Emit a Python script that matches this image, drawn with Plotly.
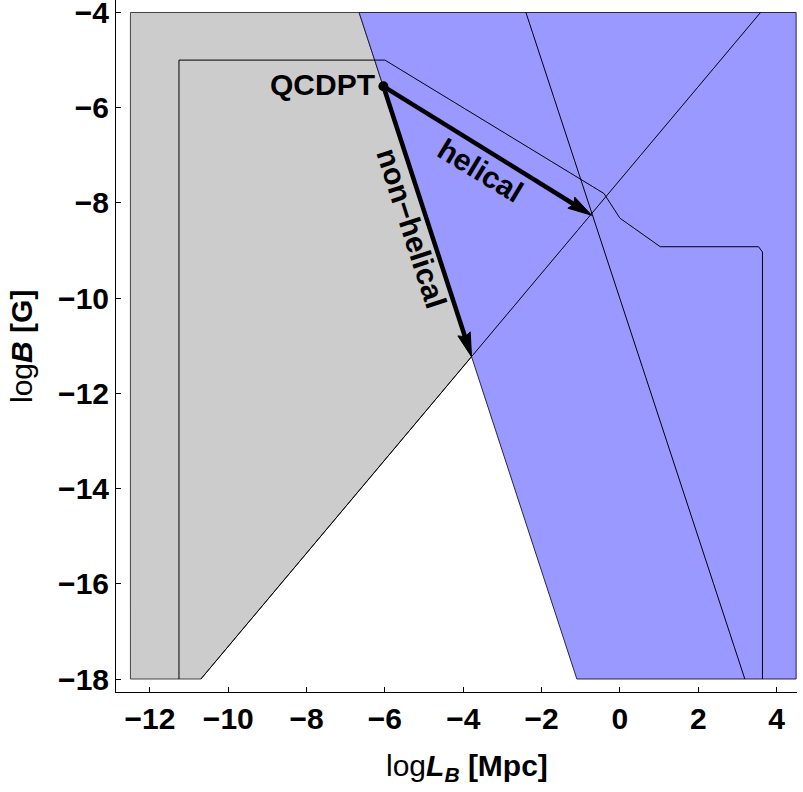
import plotly.graph_objects as go
import numpy as np

# ---- data ----
x_ticks = [-12, -10, -8, -6, -4, -2, 0, 2, 4]
x_ticklabels = ["\u221212", "\u221210", "\u22128", "\u22126", "\u22124", "\u22122", "0", "2", "4"]
y_ticks = [-4, -6, -8, -10, -12, -14, -16, -18]
y_ticklabels = ["\u22124", "\u22126", "\u22128", "\u221210", "\u221212", "\u221214", "\u221216", "\u221218"]

# grey region (allowed region outline)
grey_x = [-12.5, -12.5, -6.66, -3.79, -10.70]
grey_y = [-18.0, -4.0, -4.0, -11.23, -18.0]
# blue region
blue_x = [-6.66, 4.5, 4.5, -1.10]
blue_y = [-4.0, -4.0, -18.0, -18.0]
# thin outline curve
outline_x = [-11.26, -11.26, -6.0, -0.41, 0.0, 1.03, 3.54, 3.64, 3.64]
outline_y = [-18.0, -5.0, -5.0, -7.80, -8.32, -8.92, -8.92, -9.03, -18.0]
# diagonal line (grey boundary, slope ~1)
diag_x = [-10.70, 3.59]
diag_y = [-18.0, -4.0]
# steep line
steep_x = [-2.40, 3.19]
steep_y = [-4.0, -18.0]

# QCDPT point and arrow tips
qcd_pt = (-6.04, -5.55)
helical_tip = (-0.72, -8.26)
nonhelical_tip = (-3.79, -11.23)

# ---- layout geometry ----
W, H = 803, 792
ml, mr, mt, mb = 116, 6, 0, 100
xr = [-12.868, 4.522]
yr = [-18.273, -3.7375]
pw = W - ml - mr
ph = H - mt - mb
sx = pw / (xr[1] - xr[0])
sy = ph / (yr[1] - yr[0])

FONT = "Liberation Sans"
FS = 30

fig = go.Figure()

fig.add_trace(go.Scatter(x=grey_x + [grey_x[0]], y=grey_y + [grey_y[0]], mode="lines",
                         fill="toself", fillcolor="#CCCCCC",
                         line=dict(color="rgba(40,40,40,0.85)", width=1),
                         hoverinfo="skip", showlegend=False))
fig.add_trace(go.Scatter(x=blue_x + [blue_x[0]], y=blue_y + [blue_y[0]], mode="lines",
                         fill="toself", fillcolor="#9999FF",
                         line=dict(color="rgba(20,20,60,0.9)", width=1),
                         hoverinfo="skip", showlegend=False))
for lx, ly in [(outline_x, outline_y), (diag_x, diag_y), (steep_x, steep_y)]:
    fig.add_trace(go.Scatter(x=lx, y=ly, mode="lines",
                             line=dict(color="black", width=1),
                             hoverinfo="skip", showlegend=False))


def arrow(tail, tip, L=24.0, hw=6.5, notch=3.0, lw=4.5):
    # work in pixel space
    tx, ty = tail[0] * sx, -tail[1] * sy
    px, py = tip[0] * sx, -tip[1] * sy
    d = np.array([px - tx, py - ty])
    u = d / np.linalg.norm(d)
    v = np.array([-u[1], u[0]])
    P = np.array([px, py])
    B1 = P - L * u + hw * v
    B2 = P - L * u - hw * v
    N = P - (L - notch) * u
    def back(q):
        return q[0] / sx, -q[1] / sy
    pts = [back(P), back(B1), back(N), back(B2), back(P)]
    fig.add_trace(go.Scatter(x=[tail[0], back(N)[0]], y=[tail[1], back(N)[1]], mode="lines",
                             line=dict(color="black", width=lw),
                             hoverinfo="skip", showlegend=False))
    fig.add_trace(go.Scatter(x=[p[0] for p in pts], y=[p[1] for p in pts], mode="lines",
                             fill="toself", fillcolor="black",
                             line=dict(color="black", width=1),
                             hoverinfo="skip", showlegend=False))


arrow(qcd_pt, helical_tip)
arrow(qcd_pt, nonhelical_tip)

fig.add_trace(go.Scatter(x=[qcd_pt[0]], y=[qcd_pt[1]], mode="markers",
                         marker=dict(color="black", size=10),
                         hoverinfo="skip", showlegend=False))

bold = dict(family=FONT, size=FS, color="black", weight="bold")
annots = [
    dict(x=-6.2, y=-5.52, text="QCDPT", xanchor="right", yanchor="middle",
         font=bold),
    dict(x=-3.55, y=-7.31, text="helical", textangle=31.2, font=bold),
    dict(x=-5.31, y=-8.53, text="non\u2212helical", textangle=72, font=bold),
    dict(x=(467 - ml) / pw, y=(ph - 768 + mt) / ph, xref="paper", yref="paper",
         text="log<b><i>L<sub>B</sub></i> [Mpc]</b>", xanchor="center", yanchor="middle",
         font=dict(family=FONT, size=FS, color="black")),
    dict(x=(22 - ml) / pw, y=(ph - 347 + mt) / ph, xref="paper", yref="paper",
         text="log<b><i>B</i> [G]</b>", textangle=-90, xanchor="center", yanchor="middle",
         font=dict(family=FONT, size=FS, color="black")),
]
for a in annots:
    a.setdefault("xref", "x")
    a.setdefault("yref", "y")
    a["showarrow"] = False

fig.update_layout(
    width=W, height=H,
    margin=dict(l=ml, r=mr, t=mt, b=mb, autoexpand=False),
    paper_bgcolor="white", plot_bgcolor="white",
    annotations=annots,
    showlegend=False,
)
fig.update_xaxes(range=xr, tickvals=x_ticks, ticktext=x_ticklabels, automargin=False,
                 showgrid=False, zeroline=False, showline=True, linecolor="black", linewidth=1,
                 ticks="inside", ticklen=5, tickcolor="black", ticklabeloverflow="allow",
                 tickfont=dict(family=FONT, size=FS, color="black", weight="bold"))
fig.update_yaxes(range=yr, tickvals=y_ticks, ticktext=y_ticklabels, automargin=False,
                 showgrid=False, zeroline=False, showline=True, linecolor="black", linewidth=1,
                 ticks="inside", ticklen=5, tickcolor="black", ticklabeloverflow="allow",
                 tickfont=dict(family=FONT, size=FS, color="black", weight="bold"))

fig.write_html("out.html")
